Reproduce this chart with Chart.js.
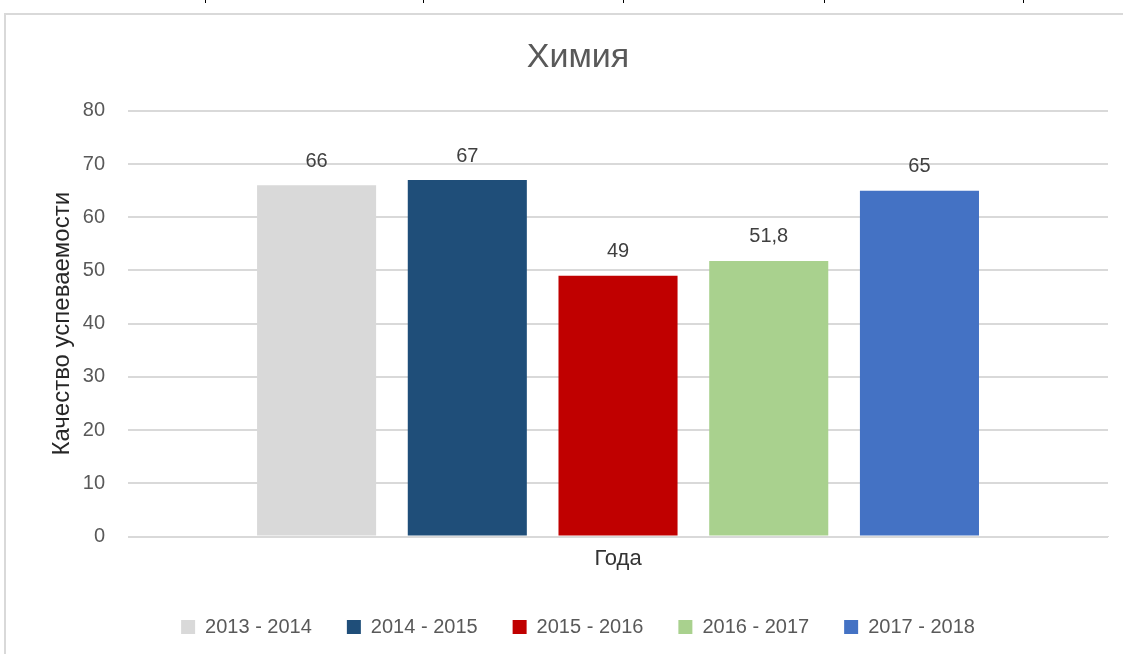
<!DOCTYPE html>
<html>
<head>
<meta charset="utf-8">
<script src="https://cdn.jsdelivr.net/npm/chart.js@4/dist/chart.umd.min.js"></script>
<style>
html,body{margin:0;padding:0;background:#fff;}
#wrap{width:1123px;height:654px;position:relative;}
</style>
</head>
<body>
<div id="wrap"><canvas id="c" width="1123" height="654"></canvas></div>
<script>
const categories = [''];
const seriesNames = ['2013 - 2014', '2014 - 2015', '2015 - 2016', '2016 - 2017', '2017 - 2018'];
const seriesValues = [66, 67, 49, 51.8, 65];
const seriesColors = ['#d9d9d9', '#1f4e79', '#c00000', '#a9d18e', '#4472c4'];
const yTicks = [0, 10, 20, 30, 40, 50, 60, 70, 80];

const FONT = "'Liberation Sans', Arial, sans-serif";

const frame = {
  id: 'frame',
  beforeDraw(chart) {
    const ctx = chart.ctx;
    ctx.save();
    ctx.fillStyle = '#fff';
    ctx.fillRect(0, 0, chart.width, chart.height);
    ctx.strokeStyle = '#d9d9d9';
    ctx.lineWidth = 2;
    ctx.beginPath();
    ctx.moveTo(5, chart.height);
    ctx.lineTo(5, 14);
    ctx.lineTo(chart.width, 14);
    ctx.stroke();
    ctx.strokeStyle = '#000';
    ctx.lineWidth = 1;
    [205, 423, 623, 824, 1023].forEach(x => {
      ctx.beginPath(); ctx.moveTo(x + 0.5, 0); ctx.lineTo(x + 0.5, 3); ctx.stroke();
    });
    ctx.restore();
  }
};

const labels = {
  id: 'labels',
  afterDatasetsDraw(chart) {
    const ctx = chart.ctx;
    ctx.save();
    ctx.font = "20px " + FONT;
    ctx.fillStyle = '#404040';
    ctx.textAlign = 'center';
    ctx.textBaseline = 'middle';
    chart.data.datasets.forEach((ds, i) => {
      const meta = chart.getDatasetMeta(i);
      meta.data.forEach((bar, j) => {
        const v = ds.data[j];
        ctx.fillText(String(v).replace('.', ','), bar.x, bar.y - 24);
      });
    });
    ctx.restore();
  }
};

new Chart(document.getElementById('c'), {
  type: 'bar',
  data: {
    labels: categories,
    datasets: seriesNames.map((n, i) => ({
      label: n,
      data: [seriesValues[i]],
      backgroundColor: seriesColors[i],
      borderWidth: 0,
      categoryPercentage: 0.769,
      barPercentage: 0.79
    }))
  },
  options: {
    responsive: false,
    animation: false,
    devicePixelRatio: 1,
    layout: { padding: { left: 48, right: 15, top: 10, bottom: 7 } },
    plugins: {
      title: {
        display: true,
        text: 'Химия',
        color: '#595959',
        font: { family: FONT, size: 34, weight: 'normal' },
        padding: { top: 27, bottom: 33 }
      },
      legend: {
        position: 'bottom',
        labels: {
          color: '#595959',
          font: { family: FONT, size: 20 },
          boxWidth: 14,
          boxHeight: 14,
          padding: 35
        }
      },
      tooltip: { enabled: false }
    },
    scales: {
      x: {
        ticks: { display: false },
        grid: { display: false },
        border: { color: '#d9d9d9', width: 1 },
        title: {
          display: true,
          text: 'Года',
          color: '#333333',
          font: { family: FONT, size: 22 },
          padding: { top: 1, bottom: 10 }
        }
      },
      y: {
        min: 0,
        max: 80,
        afterBuildTicks(axis) { axis.ticks = yTicks.map(v => ({ value: v })); },
        ticks: {
          color: '#595959',
          font: { family: FONT, size: 20 },
          padding: 23
        },
        grid: { color: '#d9d9d9', lineWidth: 2, drawTicks: false },
        border: { display: false },
        title: {
          display: true,
          text: 'Качество успеваемости',
          color: '#262626',
          font: { family: FONT, size: 24 },
          padding: { top: 0, bottom: -17 }
        }
      }
    }
  },
  plugins: [frame, labels]
});
</script>
</body>
</html>
